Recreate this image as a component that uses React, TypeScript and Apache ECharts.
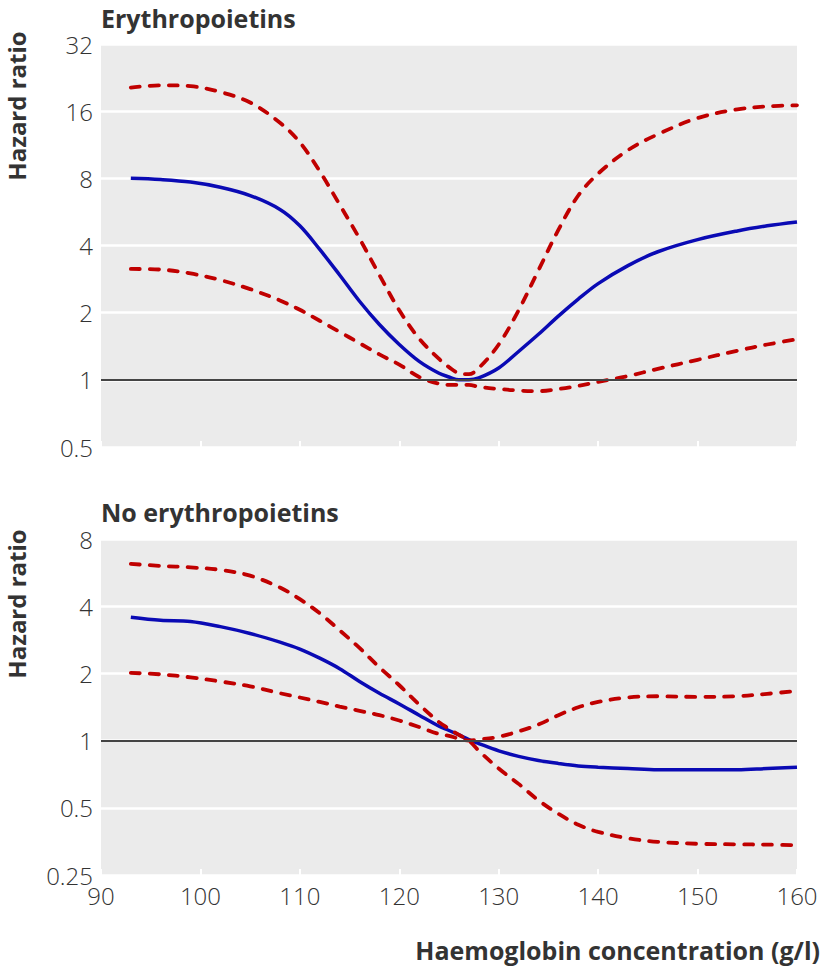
import React, { useEffect, useRef } from "react";
import * as echarts from "echarts";

// Haemoglobin concentration (g/l) at which curves are read
const xs = [93, 96, 99, 102, 105, 108, 110, 112, 114, 116, 118, 120, 122, 124, 125, 126, 127, 128, 130, 132, 134, 136, 138, 140, 143, 146, 150, 154, 157, 160];

// Erythropoietins panel
const topHR = [8.0, 7.9, 7.7, 7.3, 6.7, 5.8, 4.9, 3.84, 2.95, 2.25, 1.77, 1.44, 1.21, 1.07, 1.03, 1.0, 1.0, 1.02, 1.13, 1.34, 1.6, 1.93, 2.3, 2.7, 3.25, 3.75, 4.25, 4.65, 4.9, 5.1];
const topUpper = [20.4, 20.9, 20.7, 19.5, 17.5, 14.2, 11.6, 8.6, 6.1, 4.3, 2.95, 2.05, 1.53, 1.24, 1.14, 1.07, 1.06, 1.13, 1.44, 2.05, 3.1, 4.7, 6.7, 8.4, 10.7, 12.6, 14.9, 16.3, 16.8, 17.0];
const topLower = [3.14, 3.12, 3.0, 2.8, 2.55, 2.27, 2.06, 1.84, 1.64, 1.46, 1.3, 1.17, 1.03, 0.96, 0.95, 0.95, 0.95, 0.93, 0.91, 0.895, 0.89, 0.91, 0.94, 0.98, 1.04, 1.12, 1.23, 1.35, 1.44, 1.52];

// No erythropoietins panel
const botHR = [3.57, 3.46, 3.42, 3.24, 3.02, 2.76, 2.57, 2.34, 2.1, 1.84, 1.63, 1.46, 1.3, 1.16, 1.11, 1.06, 1.01, 0.97, 0.9, 0.85, 0.815, 0.79, 0.77, 0.76, 0.75, 0.74, 0.74, 0.74, 0.75, 0.76];
const botBoundA = [6.19, 6.06, 5.97, 5.82, 5.48, 4.85, 4.3, 3.72, 3.12, 2.6, 2.13, 1.77, 1.45, 1.21, 1.13, 1.06, 1.0, 0.9, 0.75, 0.64, 0.54, 0.47, 0.42, 0.39, 0.365, 0.352, 0.345, 0.343, 0.342, 0.34];
const botBoundB = [2.01, 1.98, 1.92, 1.84, 1.75, 1.63, 1.56, 1.49, 1.42, 1.36, 1.3, 1.23, 1.15, 1.07, 1.05, 1.02, 1.0, 1.01, 1.04, 1.1, 1.18, 1.3, 1.41, 1.49, 1.56, 1.58, 1.57, 1.58, 1.62, 1.67];

const xTicks = [90, 160, 10];
const topYRange = [0.5, 32];
const botYRange = [0.25, 8];

const titles = ["Erythropoietins", "No erythropoietins"];
const yName = "Hazard ratio";
const xName = "Haemoglobin concentration (g/l)";

const BLUE = "#0a0ab4";
const RED = "#c00000";
const TXT = "#333333";
const LABEL_FONT = "'Open Sans', sans-serif";

const pairs = (vals: number[]) => xs.map((x, i) => [x, vals[i]]);

export default function App() {
  const ref = useRef<HTMLDivElement>(null);
  useEffect(() => {
    document.body.style.margin = "0";
    if (!ref.current) return;
    const chart = echarts.init(ref.current, null, { renderer: "svg" });

    const xAxisBase = (gridIndex: number, showLabels: boolean) => ({
      type: "value",
      gridIndex,
      min: xTicks[0],
      max: xTicks[1],
      interval: xTicks[2],
      axisLine: { show: false },
      axisTick: { show: true, inside: true, length: 6, lineStyle: { color: "#ffffff", width: 2 } },
      splitLine: { show: false },
      axisLabel: {
        show: showLabels,
        color: TXT,
        fontFamily: LABEL_FONT,
        fontWeight: 300,
        fontSize: 24,
        margin: 8,
      },
    });
    const yAxisBase = (gridIndex: number, range: number[]) => ({
      type: "log",
      logBase: 2,
      gridIndex,
      min: range[0],
      max: range[1],
      interval: 1,
      axisLine: { show: false },
      axisTick: { show: false },
      splitLine: { show: true, lineStyle: { color: "#ffffff", width: 2.5 } },
      axisLabel: {
        color: TXT,
        fontFamily: LABEL_FONT,
        fontWeight: 300,
        fontSize: 24,
        margin: 8,
        formatter: (v: number) => String(Math.round(v * 100) / 100),
      },
    });

    const solid = (gi: number, vals: number[]) => ({
      type: "line",
      xAxisIndex: gi,
      yAxisIndex: gi,
      data: pairs(vals),
      smooth: 0.35,
      showSymbol: false,
      symbol: "none",
      z: 3,
      lineStyle: { color: BLUE, width: 3.5 },
    });
    const dashed = (gi: number, vals: number[]) => ({
      type: "line",
      xAxisIndex: gi,
      yAxisIndex: gi,
      data: pairs(vals),
      smooth: 0.35,
      showSymbol: false,
      symbol: "none",
      z: 4,
      lineStyle: { color: RED, width: 3.8, type: [9, 10], cap: "round" },
    });
    const refLine = (gi: number) => ({
      type: "line",
      xAxisIndex: gi,
      yAxisIndex: gi,
      data: [],
      z: 2,
      markLine: {
        silent: true,
        symbol: "none",
        label: { show: false },
        lineStyle: { color: "#444444", width: 2, type: "solid" },
        data: [{ yAxis: 1 }],
      },
    });

    chart.setOption({
      animation: false,
      grid: [
        { left: 101, top: 44, width: 696, height: 403, show: true, backgroundColor: "#ebebeb", borderWidth: 0 },
        { left: 101, top: 539, width: 696, height: 336, show: true, backgroundColor: "#ebebeb", borderWidth: 0 },
      ],
      xAxis: [xAxisBase(0, false), xAxisBase(1, true)],
      yAxis: [yAxisBase(0, topYRange), yAxisBase(1, botYRange)],
      series: [
        refLine(0),
        solid(0, topHR),
        dashed(0, topUpper),
        dashed(0, topLower),
        refLine(1),
        solid(1, botHR),
        dashed(1, botBoundA),
        dashed(1, botBoundB),
      ],
      graphic: [
        {
          type: "text",
          x: 101,
          y: 18,
          style: { text: titles[0], fill: TXT, font: "bold 25px 'Open Sans', sans-serif", align: "left", verticalAlign: "middle" },
        },
        {
          type: "text",
          x: 101,
          y: 512,
          style: { text: titles[1], fill: TXT, font: "bold 25px 'Open Sans', sans-serif", align: "left", verticalAlign: "middle" },
        },
        {
          type: "text",
          x: 16,
          y: 106,
          rotation: Math.PI / 2,
          style: { text: yName, fill: TXT, font: "bold 24px 'Open Sans', sans-serif", align: "center", verticalAlign: "middle" },
        },
        {
          type: "text",
          x: 16,
          y: 604,
          rotation: Math.PI / 2,
          style: { text: yName, fill: TXT, font: "bold 24px 'Open Sans', sans-serif", align: "center", verticalAlign: "middle" },
        },
        {
          type: "text",
          x: 820,
          y: 950,
          style: { text: xName, fill: TXT, font: "bold 25px 'Open Sans', sans-serif", align: "right", verticalAlign: "middle" },
        },
      ],
    });
    return () => chart.dispose();
  }, []);
  return <div ref={ref} style={{ width: 824, height: 976 }} />;
}
